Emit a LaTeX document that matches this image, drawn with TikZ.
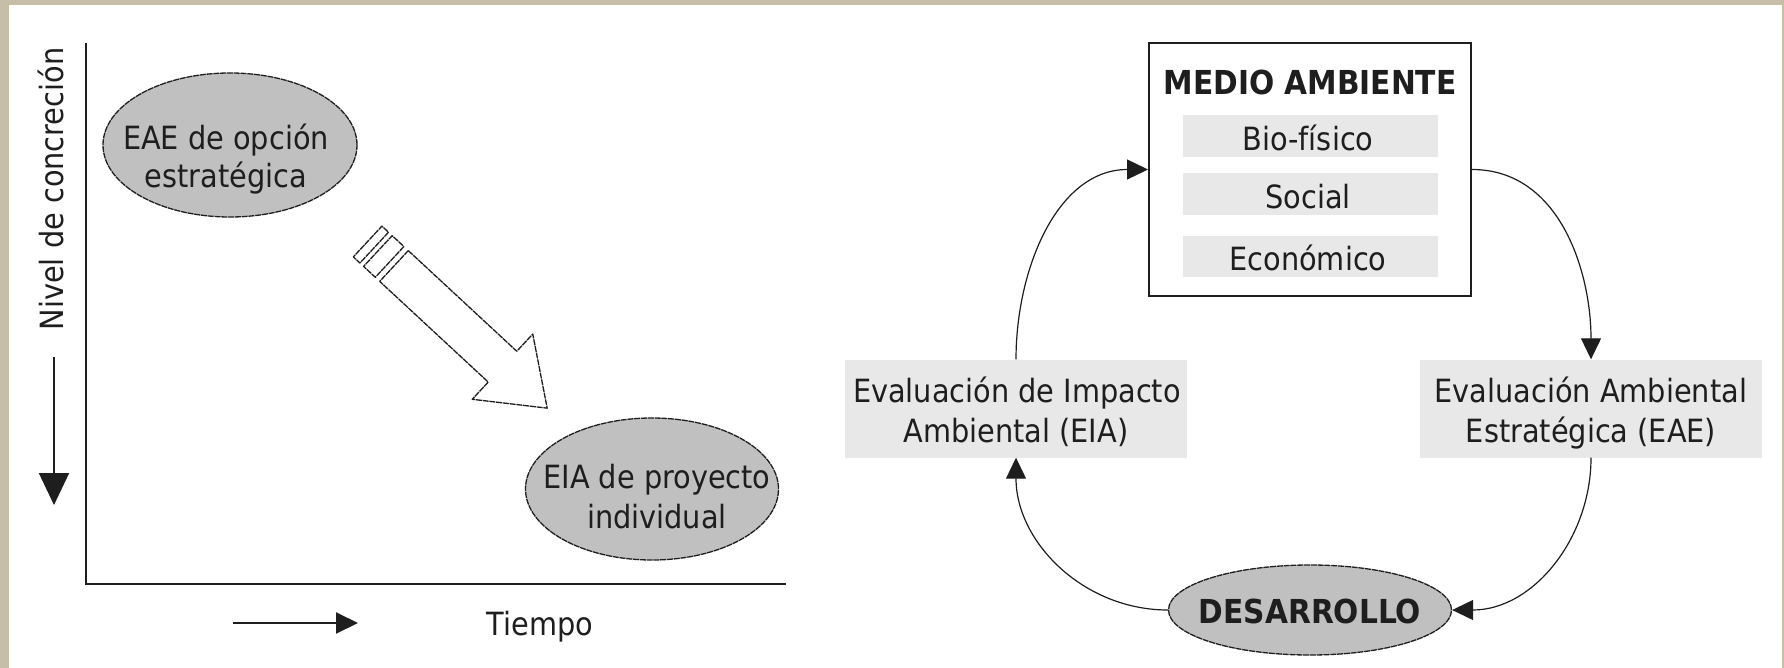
\documentclass[tikz,border=0pt]{standalone}
\usepackage{fontspec}
\setmainfont{DejaVu Sans Condensed}
\usetikzlibrary{shapes.geometric,arrows.meta}
\definecolor{framec}{RGB}{198,190,166}
\definecolor{ellfill}{RGB}{192,192,192}
\definecolor{boxfill}{RGB}{232,232,232}
\definecolor{ink}{RGB}{30,30,30}
\begin{document}
\begin{tikzpicture}[x=1pt,y=-1pt,
  ell/.style={ellipse, draw=ink, fill=ellfill, line width=1.3pt, dash pattern=on 6pt off 0.8pt, inner sep=0pt},
  txt/.style={font=\fontsize{32}{39}\selectfont, text=ink, anchor=base, inner sep=0pt},
  btxt/.style={font=\fontsize{33}{39}\selectfont\bfseries, text=ink, anchor=base, inner sep=0pt},
  gbox/.style={fill=boxfill, inner sep=0pt},
  cycarrow/.style={-{Triangle[length=21pt,width=20pt]}, line width=1.2pt, draw=ink},
  axisline/.style={line width=2pt, draw=ink},
  hollow/.style={line width=1.3pt, draw=ink, dash pattern=on 6pt off 0.8pt, line join=round},
]
\useasboundingbox (0,0) rectangle (1784,668);
\fill[framec] (0,0) rectangle (1784,668);
\fill[white] (9,5) rectangle (1782,668);

% ---------- left panel ----------
\coordinate (ytop) at (86,43);
\coordinate (orig) at (86,584);
\coordinate (xend) at (786,584);
\draw[axisline] (ytop) -- (orig) -- (xend);

\coordinate (darrs) at (54,357);
\coordinate (darre) at (54,505);
\draw[axisline, -{Triangle[length=32pt,width=30pt]}] (darrs) -- (darre);
\coordinate (rarrs) at (233,623);
\coordinate (rarre) at (358,623);
\draw[axisline, -{Triangle[length=22pt,width=21pt]}] (rarrs) -- (rarre);

\node[txt, rotate=90] (ylab) at (63,189) {Nivel de concreción};
\node[txt] (xlab) at (540,635) {Tiempo};

\node[ell, minimum width=254pt, minimum height=144pt] (e1) at (230,145) {};
\node[txt] (e1a) at (226,150) {EAE de opción};
\node[txt] (e1b) at (226,188) {estratégica};

\node[ell, minimum width=253pt, minimum height=142pt] (e2) at (652,489) {};
\node[txt] (e2a) at (657,488) {EIA de proyecto};
\node[txt] (e2b) at (657,528) {individual};

\begin{scope}[shift={(394,266)}, rotate=-42.86]
  \draw[hollow] (0,-21) -- (148,-21) -- (148,-44.5) -- (209,0) -- (148,44.5) -- (148,21) -- (0,21) -- cycle;
  \draw[hollow] (-6,-21) rectangle (-22,21);
  \draw[hollow] (-27,-21) rectangle (-36,21);
\end{scope}

% ---------- right panel ----------
\node[draw=ink, line width=2pt, minimum width=322pt, minimum height=253pt, inner sep=0pt] (ma) at (1310,169.5) {};
\node[btxt] (matitle) at (1310,95) {MEDIO AMBIENTE};
\node[gbox, minimum width=255pt, minimum height=42pt] (bio) at (1310.5,136.5) {};
\node[txt] (biot) at (1308,151) {Bio-físico};
\node[gbox, minimum width=255pt, minimum height=42pt] (soc) at (1310.5,194) {};
\node[txt] (soct) at (1308,209) {Social};
\node[gbox, minimum width=255pt, minimum height=41pt] (eco) at (1310.5,256.5) {};
\node[txt] (ecot) at (1308,270) {Económico};

\node[gbox, minimum width=342pt, minimum height=98pt] (eia) at (1016,408.5) {};
\node[txt] (eiaa) at (1017,402) {Evaluación de Impacto};
\node[txt] (eiab) at (1016,442) {Ambiental (EIA)};

\node[gbox, minimum width=342pt, minimum height=98pt] (eae) at (1591,408.5) {};
\node[txt] (eaea) at (1591,402) {Evaluación Ambiental};
\node[txt] (eaeb) at (1591,442) {Estratégica (EAE)};

\node[ell, minimum width=283pt, minimum height=90pt] (des) at (1310,610) {};
\node[btxt] (dest) at (1310,623) {DESARROLLO};

\draw[cycarrow] (ma.east) to[out=0,in=90] (eae.north);
\draw[cycarrow] (eae.south) to[out=-90,in=0] (des.east);
\draw[cycarrow] (des.west) to[out=180,in=-90] (eia.south);
\draw[cycarrow] (eia.north) to[out=90,in=180] (ma.west);
\end{tikzpicture}
\end{document}
